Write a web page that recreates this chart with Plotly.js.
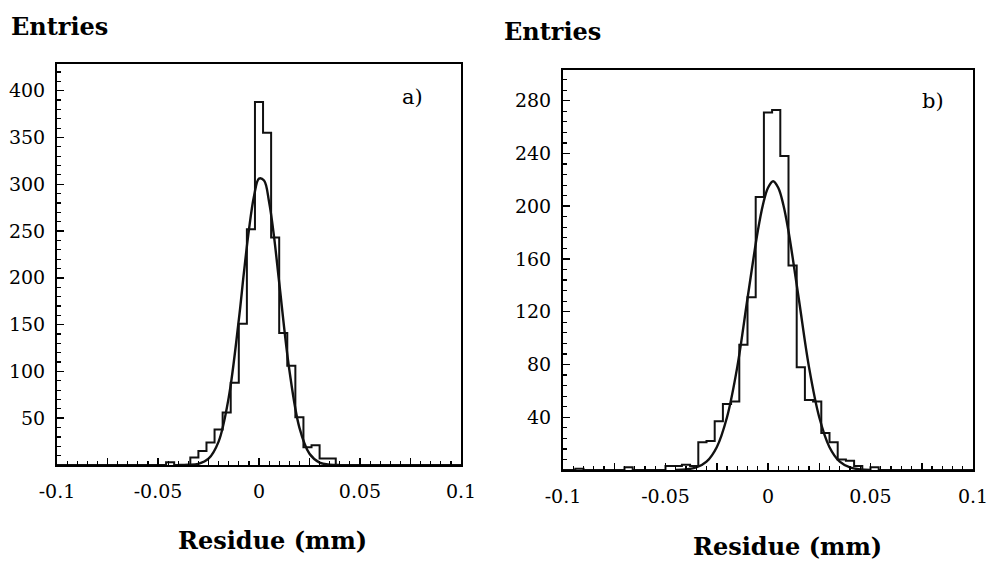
<!DOCTYPE html>
<html>
<head>
<meta charset="utf-8">
<script src="https://cdn.plot.ly/plotly-3.0.1.min.js"></script>
<style>html,body{margin:0;padding:0;background:#fff;}#chart{width:990px;height:561px;}</style>
</head>
<body>
<div id="chart"></div>
<script>
// Bin centres (mm), shared by both histograms
const binCenters = [-0.100,-0.096,-0.092,-0.088,-0.084,-0.080,-0.076,-0.072,-0.068,-0.064,
  -0.060,-0.056,-0.052,-0.048,-0.044,-0.040,-0.036,-0.032,-0.028,-0.024,
  -0.020,-0.016,-0.012,-0.008,-0.004,0,0.004,0.008,0.012,0.016,
  0.020,0.024,0.028,0.032,0.036,0.040,0.044,0.048,0.052,0.056,
  0.060,0.064,0.068,0.072,0.076,0.080,0.084,0.088,0.092,0.096,0.100];

// Panel a) entries per bin
const countsA = [0,0,0,0,0,0,0,0,0,0,
  0,0,0,0,3,0,0,8,15,24,
  38,56,88,151,252,388,355,243,141,106,
  51,19,21,7,7,0,0,0,0,0,
  0,0,0,0,0,0,0,0,0,0,0];

// Panel b) entries per bin
const countsB = [0,0,1,0,0,0,0,0,2,0,
  0,0,0,3,3,4,3,21,22,37,
  50,52,95,131,207,271,273,238,155,78,
  53,52,28,21,8,7,3,0,2,0,
  0,0,0,0,0,0,0,0,0,0,0];

// Fitted curves
const fitXA = [-0.04,-0.035,-0.03,-0.025,-0.02,-0.015,-0.01,-0.0075,-0.005,-0.0025,0,0.0025,0.005,0.0075,0.01,0.015,0.02,0.025,0.03,0.035,0.04];
const fitYA = [0,0.2,1.3,6.7,25,72,155,205,251,287,306,304,281,243,195,102,40,12,2.6,0.4,0];
const fitXB = [-0.045,-0.04,-0.035,-0.03,-0.025,-0.02,-0.015,-0.01,-0.005,-0.0025,0,0.0025,0.005,0.0075,0.01,0.015,0.02,0.025,0.03,0.035,0.04,0.045,0.05];
const fitYB = [0.1,0.5,1.9,6.3,17.3,40,78,130,181,201,214,219,214,201,181,130,78,40,17.3,6.3,1.9,0.5,0.1];

// Tick labels
const xTickVals = [-0.1,-0.075,-0.05,-0.025,0,0.025,0.05,0.075,0.1];
const xTickText = ['-0.1','','-0.05','','0','','0.05','','0.1'];
const yTickValsA = [50,100,150,200,250,300,350,400];
const yTickTextA = ['50','100','150','200','250','300','350','400'];
const yTickValsB = [40,80,120,160,200,240,280];
const yTickTextB = ['40','80','120','160','200','240','280'];

const W = 990, H = 561;
const px = v => v / W;
const py = v => 1 - v / H;
const tickFont = {family: 'DejaVu Serif', size: 19, color: '#000'};
const labelFont = {family: 'DejaVu Serif', size: 21, color: '#000'};
const titleFont = {family: 'DejaVu Serif', size: 24, color: '#000', weight: 'bold'};

function xAxis(domain, anchor) {
  return {
    domain: domain, anchor: anchor, range: [-0.1, 0.1],
    tickmode: 'array', tickvals: xTickVals, ticktext: xTickText,
    ticks: 'inside', ticklen: 7, tickwidth: 1.5, tickcolor: '#000',
    minor: {tickmode: 'linear', tick0: 0, dtick: 0.005, ticks: 'inside', ticklen: 4, tickwidth: 1.2, tickcolor: '#000', showgrid: false},
    showline: true, linecolor: '#000', linewidth: 2, mirror: true,
    showgrid: false, zeroline: false, tickfont: tickFont, ticklabelstandoff: 8, fixedrange: true
  };
}
function yAxis(domain, anchor, top, vals, text, minorStep) {
  return {
    domain: domain, anchor: anchor, range: [0, top],
    tickmode: 'array', tickvals: vals, ticktext: text,
    ticks: 'inside', ticklen: 7, tickwidth: 1.5, tickcolor: '#000',
    minor: {tickmode: 'linear', tick0: 0, dtick: minorStep, ticks: 'inside', ticklen: 4, tickwidth: 1.2, tickcolor: '#000', showgrid: false},
    showline: true, linecolor: '#000', linewidth: 2, mirror: true,
    showgrid: false, zeroline: false, tickfont: tickFont, ticklabelstandoff: 6, fixedrange: true
  };
}

const histLine = {color: '#111', width: 2};
const fitLine = {color: '#111', width: 2.4};
const data = [
  {x: binCenters, y: countsA, type: 'scatter', mode: 'lines', line: Object.assign({shape: 'hvh'}, histLine), xaxis: 'x', yaxis: 'y', hoverinfo: 'skip'},
  {x: fitXA, y: fitYA, type: 'scatter', mode: 'lines', line: Object.assign({shape: 'spline', smoothing: 1}, fitLine), xaxis: 'x', yaxis: 'y', hoverinfo: 'skip'},
  {x: binCenters, y: countsB, type: 'scatter', mode: 'lines', line: Object.assign({shape: 'hvh'}, histLine), xaxis: 'x2', yaxis: 'y2', hoverinfo: 'skip'},
  {x: fitXB, y: fitYB, type: 'scatter', mode: 'lines', line: Object.assign({shape: 'spline', smoothing: 1}, fitLine), xaxis: 'x2', yaxis: 'y2', hoverinfo: 'skip'}
];

const layout = {
  width: W, height: H,
  margin: {l: 0, r: 0, t: 0, b: 0},
  paper_bgcolor: '#fff', plot_bgcolor: '#fff',
  showlegend: false,
  xaxis: xAxis([px(57), px(461)], 'y'),
  yaxis: yAxis([py(465), py(64)], 'x', 428.5, yTickValsA, yTickTextA, 10),
  xaxis2: xAxis([px(563), px(973)], 'y2'),
  yaxis2: yAxis([py(470), py(70)], 'x2', 303.3, yTickValsB, yTickTextB, 8),
  annotations: [
    {text: 'Entries', xref: 'paper', yref: 'paper', x: px(9), y: py(26), xanchor: 'left', yanchor: 'middle', showarrow: false, font: titleFont},
    {text: 'Entries', xref: 'paper', yref: 'paper', x: px(502), y: py(32), xanchor: 'left', yanchor: 'middle', showarrow: false, font: titleFont},
    {text: 'Residue (mm)', xref: 'paper', yref: 'paper', x: px(272), y: py(540), xanchor: 'center', yanchor: 'middle', showarrow: false, font: titleFont},
    {text: 'Residue (mm)', xref: 'paper', yref: 'paper', x: px(787), y: py(546), xanchor: 'center', yanchor: 'middle', showarrow: false, font: titleFont},
    {text: 'a)', xref: 'paper', yref: 'paper', x: px(412), y: py(97), xanchor: 'center', yanchor: 'middle', showarrow: false, font: labelFont},
    {text: 'b)', xref: 'paper', yref: 'paper', x: px(933), y: py(101), xanchor: 'center', yanchor: 'middle', showarrow: false, font: labelFont}
  ]
};

Plotly.newPlot('chart', data, layout, {staticPlot: true, displayModeBar: false});
</script>
</body>
</html>
